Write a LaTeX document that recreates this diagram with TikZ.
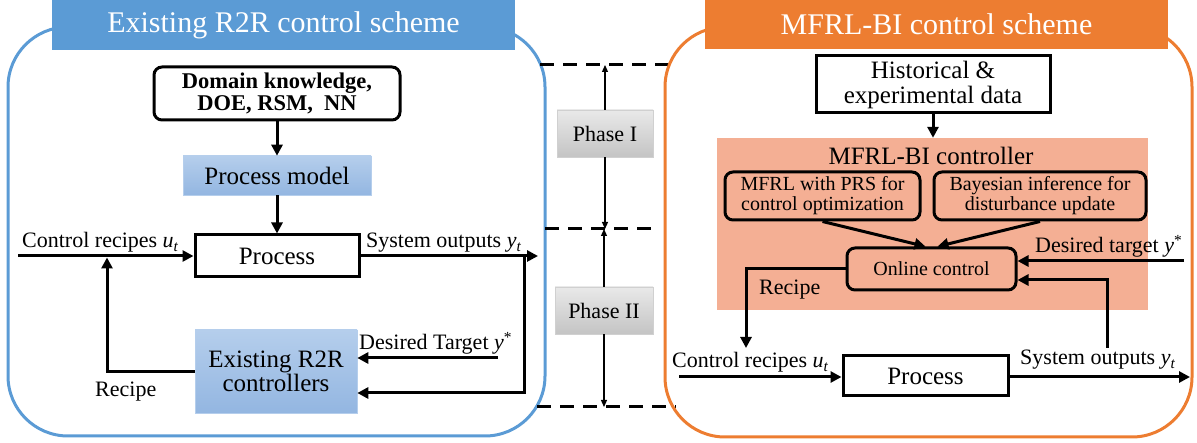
\documentclass[tikz,border=0pt]{standalone}
\usepackage{fontspec}
\setmainfont{Liberation Serif}
\usetikzlibrary{arrows.meta,calc}
\definecolor{schemeblue}{HTML}{5B9BD5}
\definecolor{schemeorange}{HTML}{ED7D31}
\definecolor{ctrlsalmon}{HTML}{F4AF94}
\definecolor{lightblueA}{HTML}{B5CEEC}
\definecolor{lightblueB}{HTML}{93B6E1}
\definecolor{phasegrayA}{HTML}{E9E9E9}
\definecolor{phasegrayB}{HTML}{C4C4C4}
\newcommand{\setfs}[1]{\fontsize{#1}{#1}\selectfont}
\newcommand{\var}[1]{\textit{#1}}

\begin{document}
\begin{tikzpicture}[x=1pt,y=-1pt,
  panel/.style={line width=3pt, rounded corners=60pt, inner sep=0pt},
  header/.style={text=white, font=\setfs{30}, inner sep=0pt},
  plainbox/.style={draw, line width=3pt, inner sep=0pt, align=center},
  roundbox/.style={plainbox, rounded corners=8pt},
  bluebox/.style={top color=lightblueA, bottom color=lightblueB, draw=lightblueA, line width=0.6pt, inner sep=0pt, align=center, font=\setfs{25}},
  phasebox/.style={top color=phasegrayA, bottom color=phasegrayB, draw=phasegrayB!80!white, line width=0.6pt, inner sep=0pt, font=\setfs{22}},
  lbl/.style={inner sep=0pt, font=\setfs{22}},
  wire/.style={line width=3pt},
  conn/.style={wire, -{Triangle[length=11pt,width=11pt]}},
  divider/.style={line width=3pt, dash pattern=on 14pt off 9pt},
  phasearrow/.style={line width=1.2pt, -{Triangle[length=7pt,width=6pt]}}
]
\useasboundingbox (0,0) rectangle (1197,443);

% ---------- left panel: existing R2R scheme ----------
\node[panel, draw=schemeblue, minimum width=537pt, minimum height=409pt] (frameL) at (276.5,231.5) {};
\node[header, fill=schemeblue, minimum width=463pt, minimum height=50pt] (titleL) at (283.5,25) {Existing R2R control scheme};

\node[roundbox, minimum width=246pt, minimum height=53pt, font=\setfs{22.5}\bfseries] (dom) at (277,93.5) {Domain knowledge,\\DOE, RSM,\ \ NN};
\node[bluebox, minimum width=188pt, minimum height=39pt] (pmodel) at (277,175.5) {Process model};
\node[plainbox, minimum width=164pt, minimum height=42pt, font=\setfs{25}] (procL) at (277,256) {Process};
\node[bluebox, minimum width=162pt, minimum height=83pt] (ctrlL) at (276,371.5) {Existing R2R\\[-1pt]controllers};

\draw[conn] (dom) -- (pmodel);
\draw[conn] (pmodel) -- (procL);

\coordinate (inL) at (18,256);
\coordinate (outL) at (538,256);
\coordinate (fbL) at (524,256);
\coordinate (fbLb) at (524,393);
\coordinate (tgtL) at (498,358);
\coordinate (recL) at (107,257.5);

\draw[conn] (inL) -- (procL.west);
\draw[conn] (procL.east) -- (outL);
\draw[conn] (fbL) -- (fbLb) -- (fbLb -| ctrlL.east);
\draw[conn] (tgtL) -- (tgtL -| ctrlL.east);
\draw[conn] (ctrlL.west) -| (recL);

\node[lbl, anchor=base west] (lblInL) at (22,248) {Control recipes \var{u}\textsubscript{\var{t}}};
\node[lbl, anchor=base west] (lblOutL) at (366,248) {System outputs \var{y}\textsubscript{\var{t}}};
\node[lbl, anchor=base west] (lblTgtL) at (359,350) {Desired Target \var{y}\textsuperscript{*}};
\node[lbl, anchor=base west] (lblRecL) at (95,397) {Recipe};

% ---------- phase markers ----------
\coordinate (d1a) at (540,65);   \coordinate (d1b) at (672,65);
\coordinate (d2a) at (545,229);  \coordinate (d2b) at (660,229);
\coordinate (d3a) at (537,407);  \coordinate (d3b) at (676,407);
\draw[divider] (d1a) -- (d1b);
\draw[divider] (d2a) -- (d2b);
\draw[divider] (d3a) -- (d3b);

\node[phasebox, minimum width=96pt, minimum height=47pt] (ph1) at (605,133.5) {Phase I};
\node[phasebox, minimum width=98pt, minimum height=47pt] (ph2) at (604,310.5) {Phase II};
\draw[phasearrow] (ph1.north) -- (ph1.north |- d1a);
\draw[phasearrow] (ph1.south) -- (ph1.south |- d2a);
\draw[phasearrow] (ph2.north) -- (ph2.north |- d2a);
\draw[phasearrow] (ph2.south) -- (ph2.south |- d3a);

% ---------- right panel: MFRL-BI scheme ----------
\node[panel, draw=schemeorange, minimum width=527pt, minimum height=410pt] (frameR) at (928.5,232) {};
\node[header, fill=schemeorange, minimum width=463pt, minimum height=49pt] (titleR) at (936.5,24.5) {MFRL-BI control scheme};

\node[plainbox, minimum width=234pt, minimum height=57pt, font=\setfs{25}] (hist) at (933,84.5) {Historical \&\\experimental data};
\node[fill=ctrlsalmon, inner sep=0pt, minimum width=431pt, minimum height=172pt] (ctrlbg) at (932.5,224) {};
\node[inner sep=0pt, anchor=base, font=\setfs{25}] (ctrlname) at (931,165) {MFRL-BI controller};
\draw[conn] (hist) -- (ctrlbg.north -| hist.south);

\node[roundbox, minimum width=195pt, minimum height=48pt, font=\setfs{20}] (mfrl) at (822.5,196) {MFRL with PRS for\\control optimization};
\node[roundbox, minimum width=212pt, minimum height=48pt, font=\setfs{20}] (bayes) at (1040,196) {Bayesian inference for\\disturbance update};
\node[roundbox, minimum width=169pt, minimum height=42pt, font=\setfs{20}] (online) at (931.5,269) {Online control};

\draw[conn] (mfrl.south) -- ($(online.north)+(-6,0)$);
\draw[conn] (bayes.south) -- ($(online.north)+(6,0)$);

\node[plainbox, minimum width=165pt, minimum height=40pt, font=\setfs{25}] (procR) at (925.5,376) {Process};

\coordinate (tgtR) at (1184,261);
\coordinate (fbR) at (1107,348);
\coordinate (fbRc) at (1107,280);
\coordinate (recR) at (746,348);
\coordinate (inR) at (679,377);
\coordinate (outR) at (1190,377);

\draw[conn] (tgtR) -- (tgtR -| online.east);
\draw[conn] (fbR) -- (fbRc) -- (fbRc -| online.east);
\draw[conn] (online.west) -| (recR);
\draw[conn] (inR) -- (inR -| procR.west);
\draw[conn] (procR.east |- outR) -- (outR);

\node[lbl, anchor=base west] (lblTgtR) at (1035,253) {Desired target \var{y}\textsuperscript{*}};
\node[lbl, anchor=base west] (lblRecR) at (759,295) {Recipe};
\node[lbl, anchor=base west] (lblInR) at (672,368) {Control recipes \var{u}\textsubscript{\var{t}}};
\node[lbl, anchor=base west] (lblOutR) at (1020,365) {System outputs \var{y}\textsubscript{\var{t}}};
\end{tikzpicture}
\end{document}
